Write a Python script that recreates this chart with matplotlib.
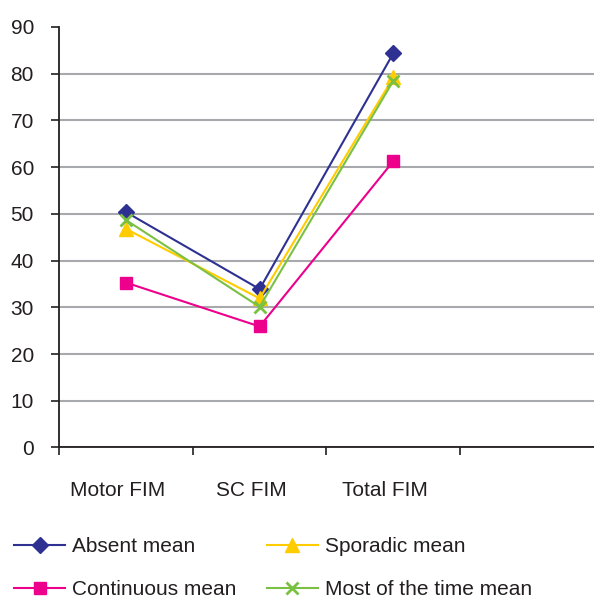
import matplotlib
matplotlib.use("Agg")
import matplotlib.pyplot as plt

categories = ['Motor FIM', 'SC FIM', 'Total FIM']
absent_mean = [50.4, 33.9, 84.4]
sporadic_mean = [46.8, 31.9, 79.2]
continuous_mean = [35.3, 25.9, 61.3]
most_time_mean = [48.7, 30.1, 78.5]

plt.rcParams['font.family'] = ['Liberation Sans', 'DejaVu Sans']

fig = plt.figure(figsize=(5.94, 5.96), dpi=100)
ax = fig.add_axes([0.0993, 0.2492, 0.9007, 0.7055])

xs = [0.5, 1.5, 2.5]
ax.plot(xs, absent_mean, marker='D', color='#2E3192', lw=1.5, ms=8.5, label='Absent mean')
ax.plot(xs, sporadic_mean, marker='^', color='#FFCC00', lw=1.5, ms=10, label='Sporadic mean')
ax.plot(xs, continuous_mean, marker='s', color='#EC008C', lw=1.5, ms=8.5, label='Continuous mean')
ax.plot(xs, most_time_mean, marker='x', color='#7AC143', lw=1.5, ms=9, mew=2,
        label='Most of the time mean')

ax.set_xlim(0, 4)
ax.set_ylim(0, 90)
ax.set_yticks(range(0, 91, 10))
ax.yaxis.grid(True, color='#A7A9AC', lw=1.5)
ax.set_axisbelow(True)
ax.yaxis.get_gridlines()[-1].set_visible(False)

ax.set_xticks([0, 1, 2, 3])
ax.set_xticklabels([])
ax.set_xticks([x - 0.06 for x in xs], minor=True)
ax.set_xticklabels(categories, minor=True)
ax.tick_params(axis='x', which='major', length=6, width=1.2, direction='out', color='#231F20')
ax.tick_params(axis='x', which='minor', length=0, pad=24, labelsize=15, labelcolor='#231F20')
ax.tick_params(axis='y', length=6, width=1.2, pad=12, labelsize=15, color='#231F20', labelcolor='#231F20')

for s in ['top', 'right']:
    ax.spines[s].set_visible(False)
for s in ['left', 'bottom']:
    ax.spines[s].set_color('#231F20')
    ax.spines[s].set_linewidth(1.3)

# legend below the plot, two columns
handles, labels = ax.get_legend_handles_labels()
order = [0, 2, 1, 3]
fig.legend([handles[i] for i in order], [labels[i] for i in order], ncol=2,
           loc='upper left', bbox_to_anchor=(0.0067, 1 - 527 / 596), frameon=False,
           borderpad=0, fontsize=15, handlelength=2.45, handletextpad=0.33,
           columnspacing=1.45, labelspacing=1.13, labelcolor='#231F20')

fig.savefig('out.png', dpi=100)
